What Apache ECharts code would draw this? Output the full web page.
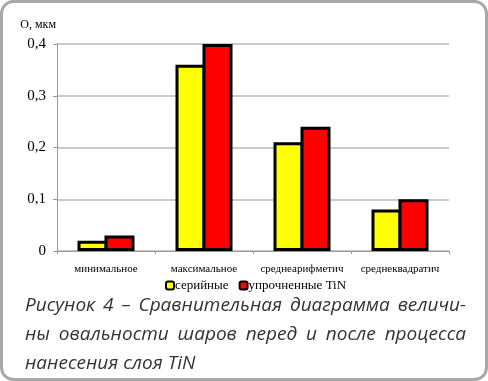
<!DOCTYPE html>
<html>
<head>
<meta charset="utf-8">
<script src="https://cdn.jsdelivr.net/npm/echarts@6/dist/echarts.min.js"></script>
<style>
  html, body { margin: 0; padding: 0; background: #fff; }
  #chart { width: 488px; height: 381px; }
</style>
</head>
<body>
<div id="chart"></div>
<script>
// данные диаграммы
var categories = ["минимальное", "максимальное", "среднеарифметич", "среднеквадратич"];
var serial = [0.02, 0.36, 0.21, 0.08];
var hardened = [0.03, 0.4, 0.24, 0.1];
var seriesNames = ["серийные", "упрочненные TiN"];
var yTicks = [0, 0.1, 0.2, 0.3, 0.4];
var captionLines = [
  "Рисунок 4 – Сравнительная диаграмма величи-",
  "ны овальности шаров перед и после процесса",
  "нанесения слоя TiN"
];

var serif = "'Liberation Serif', 'DejaVu Serif', serif";
var capFont = "italic 19px 'Open Sans', 'Noto Sans', sans-serif";

var myChart = echarts.init(document.getElementById("chart"));

// подпись рисунка: первые две строки выравниваются по ширине
var ctx = document.createElement("canvas").getContext("2d");
ctx.font = capFont;
var capLeft = 25, capRight = 466;
var captionGraphics = [];
captionLines.forEach(function (line, i) {
  var top = 296 + i * 29;
  var words = line.split(" ");
  if (i === captionLines.length - 1) {
    captionGraphics.push({
      type: "text", left: capLeft, top: top,
      style: { text: line, fill: "#333", font: capFont }
    });
    return;
  }
  var widths = words.map(function (w) { return ctx.measureText(w).width; });
  var total = widths.reduce(function (a, b) { return a + b; }, 0);
  var gap = (capRight - capLeft - total) / (words.length - 1);
  var x = capLeft;
  words.forEach(function (w, k) {
    captionGraphics.push({
      type: "text", x: x, y: top,
      style: { text: w, fill: "#333", font: capFont, textVerticalAlign: "top" }
    });
    x += widths[k] + gap;
  });
});

myChart.setOption({
  animation: false,
  graphic: [
    {
      type: "rect",
      shape: { x: 1.5, y: 1.5, width: 485, height: 378, r: 12 },
      style: { fill: "#fff", stroke: "#a8a8a8", lineWidth: 3 },
      z: -10
    }
  ].concat(captionGraphics),
  legend: {
    data: seriesNames,
    top: 274,
    left: 160,
    itemWidth: 8,
    itemHeight: 8,
    itemGap: 10,
    icon: "roundRect",
    itemStyle: { borderColor: "#000", borderWidth: 2 },
    textStyle: { fontFamily: serif, fontSize: 13, color: "#000", padding: [0, 0, 0, -4] }
  },
  grid: { left: 57, right: 39, top: 44, bottom: 130 },
  xAxis: {
    type: "category",
    data: categories,
    axisLine: { lineStyle: { color: "#999", width: 1 } },
    axisTick: { show: true, length: 3, lineStyle: { color: "#999" } },
    axisLabel: { fontFamily: serif, fontSize: 11, color: "#000", margin: 13, interval: 0 }
  },
  yAxis: {
    type: "value",
    name: "О, мкм",
    nameLocation: "end",
    nameGap: 13,
    nameTextStyle: { fontFamily: serif, fontSize: 12, color: "#000", align: "right", padding: [0, 1, 0, 0] },
    min: 0,
    max: 0.4,
    interval: 0.1,
    axisLine: { show: true, lineStyle: { color: "#999" } },
    axisTick: { show: true, length: 4, lineStyle: { color: "#999" } },
    splitLine: { lineStyle: { color: "#b8b8b8", width: 1.5 } },
    axisLabel: {
      fontFamily: serif,
      fontSize: 15,
      color: "#000",
      margin: 11,
      formatter: function (v) { return String(Math.round(v * 10) / 10).replace(".", ","); }
    }
  },
  series: [
    {
      name: seriesNames[0],
      type: "bar",
      data: serial,
      barWidth: 30,
      barGap: "-10%",
      itemStyle: { color: "#ffff00", borderColor: "#000", borderWidth: 3 }
    },
    {
      name: seriesNames[1],
      type: "bar",
      data: hardened,
      barWidth: 30,
      barGap: "-10%",
      itemStyle: { color: "#ff0000", borderColor: "#000", borderWidth: 3 }
    }
  ]
});
</script>
</body>
</html>
